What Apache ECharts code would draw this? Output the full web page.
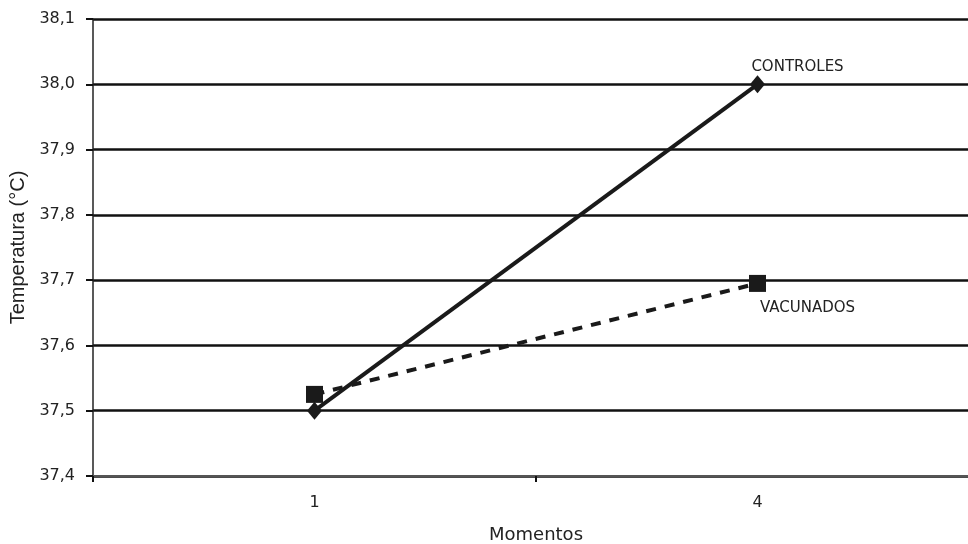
<!DOCTYPE html>
<html>
<head>
<meta charset="utf-8">
<script src="https://cdn.jsdelivr.net/npm/echarts@6/dist/echarts.min.js"></script>
<style>html,body{margin:0;padding:0;background:#fff;overflow:hidden;width:968px;height:544px}
#wrap{position:relative;width:968px;height:544px;overflow:hidden}
#c{position:absolute;left:0;top:0;width:980px;height:544px}</style>
</head>
<body>
<div id="wrap"><div id="c"></div></div>
<script>
const categories = ['1', '4'];
const controles = [37.5, 38.0];
const vacunados = [37.525, 37.695];
const yMin = 37.4, yMax = 38.1, yStep = 0.1;

const chart = echarts.init(document.getElementById('c'), null, {renderer: 'canvas'});
const wide = '"DejaVu Sans", sans-serif';
const arial = '"Liberation Sans", Arial, sans-serif';
chart.setOption({
  animation: false,
  backgroundColor: '#fff',
  grid: {left: 93, top: 19, width: 886, height: 457, containLabel: false, outerBoundsMode: 'none'},
  xAxis: {
    type: 'category',
    data: categories,
    boundaryGap: true,
    name: 'Momentos',
    nameLocation: 'middle',
    nameGap: 50,
    nameTextStyle: {fontFamily: wide, fontSize: 18, color: '#222'},
    axisLine: {lineStyle: {color: '#555', width: 2}},
    axisTick: {show: true, length: 6, lineStyle: {color: '#111', width: 2}},
    axisLabel: {fontFamily: wide, fontSize: 16, color: '#222', margin: 19},
    splitLine: {show: false}
  },
  yAxis: {
    type: 'value',
    min: yMin, max: yMax, interval: yStep,
    name: 'Temperatura (°C)',
    nameLocation: 'middle',
    nameGap: 65,
    nameTextStyle: {fontFamily: arial, fontSize: 20, color: '#222'},
    axisLine: {show: true, lineStyle: {color: '#222', width: 1.5}},
    axisTick: {show: true, length: 7, lineStyle: {color: '#111', width: 2}},
    axisLabel: {fontFamily: wide, fontSize: 16, color: '#222', margin: 18,
      formatter: v => v.toFixed(1).replace('.', ',')},
    splitLine: {show: true, lineStyle: {color: '#111', width: 2.5}}
  },
  series: [
    {
      name: 'CONTROLES', type: 'line', data: controles,
      symbol: 'diamond', symbolSize: [15, 18],
      lineStyle: {color: '#1a1a1a', width: 4},
      itemStyle: {color: '#1a1a1a'},
      z: 3,
      label: {show: true, formatter: p => p.dataIndex === 1 ? 'CONTROLES' : '',
        position: 'top', offset: [40, 4], fontFamily: wide, fontSize: 15, color: '#222'}
    },
    {
      name: 'VACUNADOS', type: 'line', data: vacunados,
      symbol: 'rect', symbolSize: 17,
      lineStyle: {color: '#1a1a1a', width: 4, type: [10, 9]},
      itemStyle: {color: '#1a1a1a'},
      z: 2,
      label: {show: true, formatter: p => p.dataIndex === 1 ? 'VACUNADOS' : '',
        position: 'bottom', offset: [50, 4], fontFamily: wide, fontSize: 15, color: '#222'}
    }
  ]
});
</script>
</body>
</html>
